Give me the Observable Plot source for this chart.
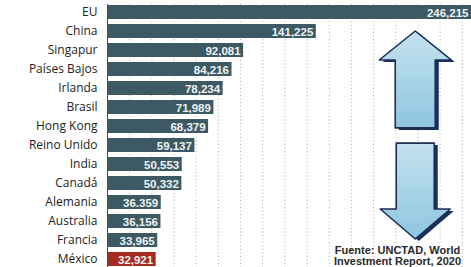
<!DOCTYPE html>
<html>
<head>
<meta charset="utf-8">
<script src="https://cdn.jsdelivr.net/npm/d3@7"></script>
<script src="https://cdn.jsdelivr.net/npm/@observablehq/plot@0.6"></script>
<style>
  html, body { margin: 0; padding: 0; background: #fff; overflow: hidden; }
  #chart { width: 471px; height: 267px; overflow: hidden; }
</style>
</head>
<body>
<div id="chart"></div>
<script>
const countries = ["EU", "China", "Singapur", "Países Bajos", "Irlanda", "Brasil", "Hong Kong",
  "Reino Unido", "India", "Canadá", "Alemania", "Australia", "Francia", "México"];
const values = [246215, 141225, 92081, 84216, 78234, 71989, 68379, 59137, 50553, 50332, 36359, 36156, 33965, 32921];
const valueLabels = ["246,215", "141,225", "92,081", "84,216", "78,234", "71,989", "68,379",
  "59,137", "50,553", "50,332", "36.359", "36,156", "33,965", "32,921"];
const highlight = "México";
const gridValues = [15000, 30000, 45000, 60000, 75000, 90000, 105000, 120000, 135000, 150000,
  165000, 180000, 195000, 210000, 225000, 240000];
const caption = "Fuente: UNCTAD, World\nInvestment Report, 2020";

const data = countries.map((c, i) => ({country: c, value: values[i], label: valueLabels[i]}));

const plot = Plot.plot({
  width: 471,
  height: 267,
  marginLeft: 107,
  marginRight: 0,
  marginTop: 4,
  marginBottom: -1,
  x: {domain: [0, values[0]], axis: null},
  y: {domain: countries, paddingInner: 0.25, paddingOuter: 0, align: 0.5, axis: null},
  style: {fontFamily: "'Open Sans', sans-serif", background: "#fff", color: "#222"},
  marks: [
    Plot.ruleX(gridValues, {stroke: "#8a8a8a", strokeDasharray: "1,2.5", strokeOpacity: 0.7}),
    Plot.ruleX([0], {stroke: "#444", strokeWidth: 1}),
    Plot.barX(data, {x: "value", y: "country", fill: d => d.country === highlight ? "#a52a1f" : "#3d5a64"}),
    Plot.text(data, {x: "value", y: "country", text: "label", textAnchor: "end", dx: -3, dy: 0.5,
      fill: "#eef2f3", fontWeight: "bold", fontSize: 11.5, style: "letter-spacing:0.6px",
      fontFamily: "Arial, 'Liberation Sans', sans-serif"}),
    Plot.axisY({tickSize: 0, tickPadding: 10, fontSize: 12, label: null, fill: "#222"}),
    Plot.text([caption], {frameAnchor: "bottom-right", textAnchor: "middle", lineAnchor: "bottom",
      dx: -74, dy: -4, fontSize: 11, fontWeight: "bold", fill: "#2a2a2a", lineHeight: 0.95,
      fontFamily: "Arial, 'Liberation Sans', sans-serif"})
  ]
});

document.getElementById("chart").appendChild(plot);

// decorative arrows positioned through the plot's scales
const xs = plot.scale("x"), ys = plot.scale("y");
const cx = xs.apply(208500);
const bw = ys.bandwidth, st = ys.step;
const yChina = ys.apply("China") + bw / 2;
const yHK = ys.apply("Hong Kong") + bw / 2;
const yFr = ys.apply("Francia") + bw / 2;

function upArrow(x, top, bottom) {
  const hw = 36, sw = 20, hh = 29;
  return `M${x},${top} L${x + hw},${top + hh} L${x + sw},${top + hh} L${x + sw},${bottom} L${x - sw},${bottom} L${x - sw},${top + hh} L${x - hw},${top + hh} Z`;
}
function downArrow(x, top, bottom) {
  const hw = 35, sw = 19, hh = 30;
  return `M${x - sw},${top} L${x + sw},${top} L${x + sw},${bottom - hh} L${x + hw},${bottom - hh} L${x},${bottom} L${x - hw},${bottom - hh} L${x - sw},${bottom - hh} Z`;
}
const svg = d3.select(plot);
const defs = svg.append("defs");
const grad = defs.append("linearGradient").attr("id", "arrowFill").attr("x1", 0).attr("y1", 0).attr("x2", 0).attr("y2", 1);
grad.append("stop").attr("offset", "0%").attr("stop-color", "#c4e2f0");
grad.append("stop").attr("offset", "100%").attr("stop-color", "#8ec6e0");
const g = svg.append("g");
const upD = upArrow(cx, yChina, yHK + st * 0.1);
const downD = downArrow(cx, yHK + st * 0.9, yFr - 1);
[upD, downD].forEach(d => {
  g.append("path").attr("d", d).attr("fill", "#1c2f57").attr("transform", "translate(3.5,2)");
  g.append("path").attr("d", d).attr("fill", "url(#arrowFill)").attr("stroke", "#1c2f57").attr("stroke-width", 1.6).attr("stroke-linejoin", "round");
});
</script>
</body>
</html>
